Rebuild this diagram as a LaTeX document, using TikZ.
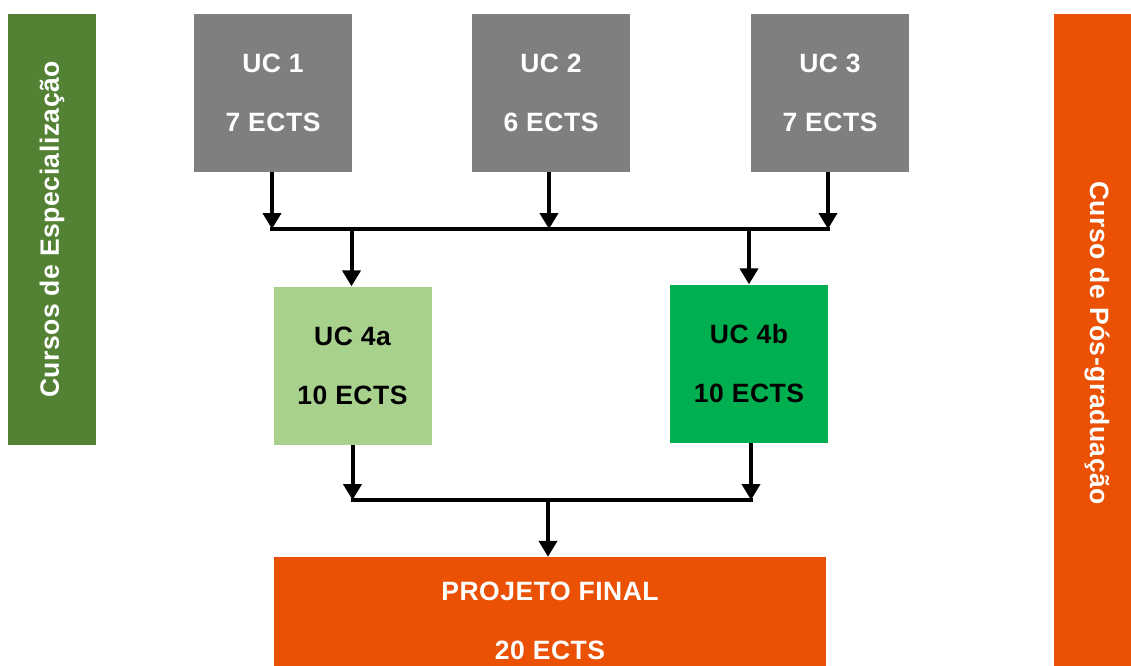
\documentclass[tikz,border=0pt]{standalone}
\usepackage{fontspec}
\setmainfont{Liberation Sans}[LetterSpace=2]
\usetikzlibrary{arrows.meta}
\definecolor{ucgray}{HTML}{7F7F7F}
\definecolor{darkgreen}{HTML}{548235}
\definecolor{orangec}{HTML}{EA5104}
\definecolor{lightgreen}{HTML}{A9D18E}
\definecolor{midgreen}{HTML}{00B050}
\begin{document}
\begin{tikzpicture}[x=1pt,y=-1pt,
  box/.style={inner sep=0pt, align=center, font=\fontsize{26.5}{59}\selectfont\bfseries},
  sq/.style={box, minimum width=158pt, minimum height=158pt},
  bar/.style={inner sep=0pt, align=center, text=white, font=\fontsize{26.5}{30}\selectfont\bfseries},
  arr/.style={line width=4pt, -{Triangle[width=18pt,length=16pt]}},
  ln/.style={line width=4pt, line cap=rect}]
\useasboundingbox (0,0) rectangle (1131,665);
% side bars
\node[bar, fill=darkgreen, rotate=90, minimum width=431pt, minimum height=88pt] (left) at (52,229.5) {Cursos de Especialização};
\node[bar, fill=orangec, rotate=-90, minimum width=658pt, minimum height=86pt] (right) at (1097,343) {Curso de Pós-graduação};
% top boxes
\node[sq, fill=ucgray, text=white] (uc1) at (273,93) {UC 1\\7 ECTS};
\node[sq, fill=ucgray, text=white] (uc2) at (551,93) {UC 2\\6 ECTS};
\node[sq, fill=ucgray, text=white] (uc3) at (830,93) {UC 3\\7 ECTS};
% middle boxes
\node[sq, fill=lightgreen, text=black] (uc4a) at (352.5,365.5) {UC 4a\\10 ECTS};
\node[sq, fill=midgreen, text=black] (uc4b) at (749,363.5) {UC 4b\\10 ECTS};
% final
\node[box, fill=orangec, text=white, minimum width=552pt, minimum height=127pt] (pf) at (550,620.5) {PROJETO FINAL\\20 ECTS};
% junctions
\coordinate (j1) at (0,229);
\coordinate (j2) at (0,500);
\draw[arr] ([xshift=-1pt]uc1.south) -- ([xshift=-1pt]uc1.south |- j1);
\draw[arr] ([xshift=-2pt]uc2.south) -- ([xshift=-2pt]uc2.south |- j1);
\draw[arr] ([xshift=-2pt]uc3.south) -- ([xshift=-2pt]uc3.south |- j1);
\draw[ln] ([xshift=-1pt]uc1.south |- j1) -- ([xshift=-2pt]uc3.south |- j1);
\draw[arr] ([xshift=-1pt]uc4a.north |- j1) -- ([xshift=-1pt]uc4a.north);
\draw[arr] (uc4b.north |- j1) -- (uc4b.north);
\draw[arr] (uc4a.south) -- (uc4a.south |- j2);
\draw[arr] ([xshift=2pt]uc4b.south) -- ([xshift=2pt]uc4b.south |- j2);
\draw[ln] (uc4a.south |- j2) -- ([xshift=2pt]uc4b.south |- j2);
\draw[arr] ([xshift=-2pt]pf.north |- j2) -- ([xshift=-2pt]pf.north);
\end{tikzpicture}
\end{document}
